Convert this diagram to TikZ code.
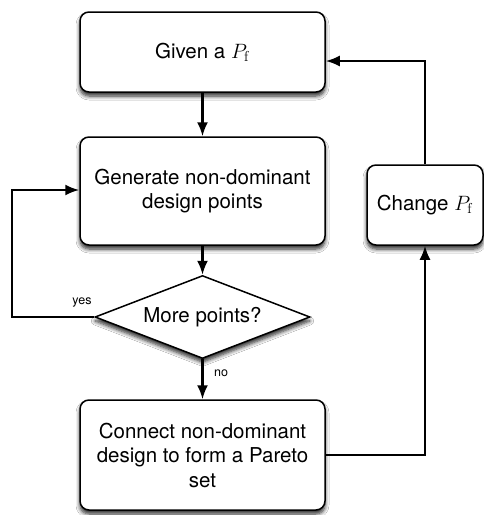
\documentclass[tikz,border=0pt]{standalone}
\usepackage[no-math]{fontspec}
\setmainfont{TeX Gyre Heros}
\usetikzlibrary{shapes.geometric,arrows.meta,shadows.blur}
\begin{document}
\begin{tikzpicture}[x=1pt,y=-1pt,
  shad/.style={blur shadow={shadow xshift=0pt, shadow yshift=-4pt, shadow blur steps=6, shadow blur radius=4pt, shadow opacity=85}},
  box/.style={draw=black, line width=1.5pt, fill=white, rounded corners=9pt,
    align=center, inner sep=0pt, font=\fontsize{20.5}{24.5}\selectfont, shad},
  dec/.style={draw=black, line width=1.5pt, fill=white, diamond, aspect=3, inner sep=0pt,
    align=center, font=\fontsize{20.5}{24.5}\selectfont, shad},
  arr/.style={line width=2.2pt, -{Latex[length=14pt,width=11pt]}},
  lbl/.style={font=\fontsize{12.5}{14}\selectfont, inner sep=0pt}
]
\useasboundingbox[fill=white] (0,0) rectangle (484,515);
\node[box, minimum width=245pt, minimum height=80pt] (given) at (202.5,52) {Given a $P_{\mathrm{f}}$};
\node[box, minimum width=245pt, minimum height=108pt] (gen) at (202.5,191) {Generate non-dominant\\design points};
\node[dec, minimum width=215pt, minimum height=83pt] (more) at (202.5,317) {More points?};
\node[box, minimum width=245pt, minimum height=110pt] (conn) at (202.5,455) {Connect non-dominant\\design to form a Pareto\\set};
\node[box, minimum width=116pt, minimum height=80pt] (change) at (425,205) {Change $P_{\mathrm{f}}$};
\coordinate (ll) at (12,317);
\coordinate (lu) at (12,190);
\draw[arr] (given) -- (gen);
\draw[arr] (gen) -- (more);
\draw[arr] (more) -- (conn);
\draw[arr] (more.west) -- (ll) -- (lu) -- (gen.west |- lu);
\draw[arr] (conn.east |- 0,455) -| (change.south);
\draw[arr] (change.north) |- (given.east |- 0,61);
\node[lbl] (yes) at (82,302) {yes};
\node[lbl] (no) at (221,373) {no};
\end{tikzpicture}
\end{document}
